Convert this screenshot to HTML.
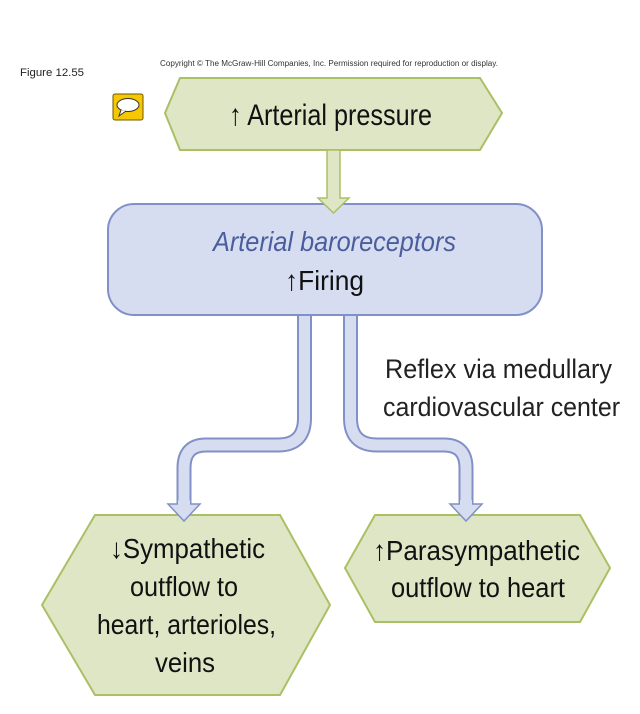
<!DOCTYPE html>
<html><head><meta charset="utf-8"><style>
html,body{margin:0;padding:0;background:#fff;}
svg{display:block;}
text{font-family:"Liberation Sans",sans-serif;}
</style></head><body>
<svg width="640" height="714" viewBox="0 0 640 714" xmlns="http://www.w3.org/2000/svg">
<text x="20" y="76" font-size="11" fill="#222" textLength="64" lengthAdjust="spacingAndGlyphs">Figure 12.55</text>
<text x="160" y="66" font-size="8" fill="#333" textLength="338" lengthAdjust="spacingAndGlyphs">Copyright © The McGraw-Hill Companies, Inc. Permission required for reproduction or display.</text>
<rect x="113" y="94" width="30" height="26" rx="2" fill="#f7c800" stroke="#6b5a00" stroke-width="1"/>
<ellipse cx="128" cy="105" rx="11" ry="6.5" fill="#fff" stroke="#333" stroke-width="1"/>
<path d="M121 110 L119 116 L126 111" fill="#fff" stroke="#333" stroke-width="1"/>

<!-- top hexagon -->
<polygon points="180,78 480,78 502,113 480,150 180,150 165,113" fill="#dfe6c6" stroke="#a9c064" stroke-width="2"/>
<text x="229" y="125" font-size="30" fill="#111" textLength="203" lengthAdjust="spacingAndGlyphs">↑ Arterial pressure</text>

<!-- bottom left hexagon -->
<polygon points="95,515 280,515 330,605 280,695 95,695 42,605" fill="#dfe6c6" stroke="#a9c064" stroke-width="2"/>
<text x="110" y="558" font-size="28" fill="#111" textLength="155" lengthAdjust="spacingAndGlyphs">↓Sympathetic</text>
<text x="130" y="596" font-size="28" fill="#111" textLength="108" lengthAdjust="spacingAndGlyphs">outflow to</text>
<text x="97" y="634" font-size="28" fill="#111" textLength="179" lengthAdjust="spacingAndGlyphs">heart, arterioles,</text>
<text x="155" y="672" font-size="28" fill="#111" textLength="60" lengthAdjust="spacingAndGlyphs">veins</text>

<!-- bottom right hexagon -->
<polygon points="375,515 580,515 610,568 580,622 375,622 345,568" fill="#dfe6c6" stroke="#a9c064" stroke-width="2"/>
<text x="373" y="560" font-size="28" fill="#111" textLength="207" lengthAdjust="spacingAndGlyphs">↑Parasympathetic</text>
<text x="391" y="597" font-size="28" fill="#111" textLength="174" lengthAdjust="spacingAndGlyphs">outflow to heart</text>

<!-- connectors -->
<g fill="none" stroke-linejoin="round">
<path d="M304.5 300 V418 Q304.5 445 278 445 H206 Q184 445 184 468 V506" stroke="#8190c6" stroke-width="15"/>
<path d="M304.5 300 V418 Q304.5 445 278 445 H206 Q184 445 184 468 V507" stroke="#d7ddf0" stroke-width="11"/>
<path d="M350.5 300 V418 Q350.5 445 377 445 H444 Q466 445 466 468 V506" stroke="#8190c6" stroke-width="15"/>
<path d="M350.5 300 V418 Q350.5 445 377 445 H444 Q466 445 466 468 V507" stroke="#d7ddf0" stroke-width="11"/>
</g>
<polygon points="168,504 200,504 184,521" fill="#d7ddf0" stroke="#8190c6" stroke-width="1.5"/>
<polygon points="450,504 482,504 466,521" fill="#d7ddf0" stroke="#8190c6" stroke-width="1.5"/>
<rect x="178" y="500" width="12" height="6" fill="#d7ddf0"/>
<rect x="460" y="500" width="12" height="6" fill="#d7ddf0"/>

<!-- baroreceptor box -->
<rect x="108" y="204" width="434" height="111" rx="26" fill="#d7ddf0" stroke="#8190c6" stroke-width="2"/>
<text x="213" y="251" font-size="28" font-style="italic" fill="#4a5e9e" textLength="243" lengthAdjust="spacingAndGlyphs">Arterial baroreceptors</text>
<text x="285" y="290" font-size="28" fill="#111" textLength="79" lengthAdjust="spacingAndGlyphs">↑Firing</text>

<!-- top arrow -->
<polygon points="327,150 340,150 340,198 349,198 333.5,213 318,198 327,198" fill="#dfe6c6" stroke="#a9c064" stroke-width="1.5"/>

<text x="385" y="378" font-size="27" fill="#222" textLength="227" lengthAdjust="spacingAndGlyphs">Reflex via medullary</text>
<text x="383" y="416" font-size="27" fill="#222" textLength="237" lengthAdjust="spacingAndGlyphs">cardiovascular center</text>
</svg>
</body></html>
